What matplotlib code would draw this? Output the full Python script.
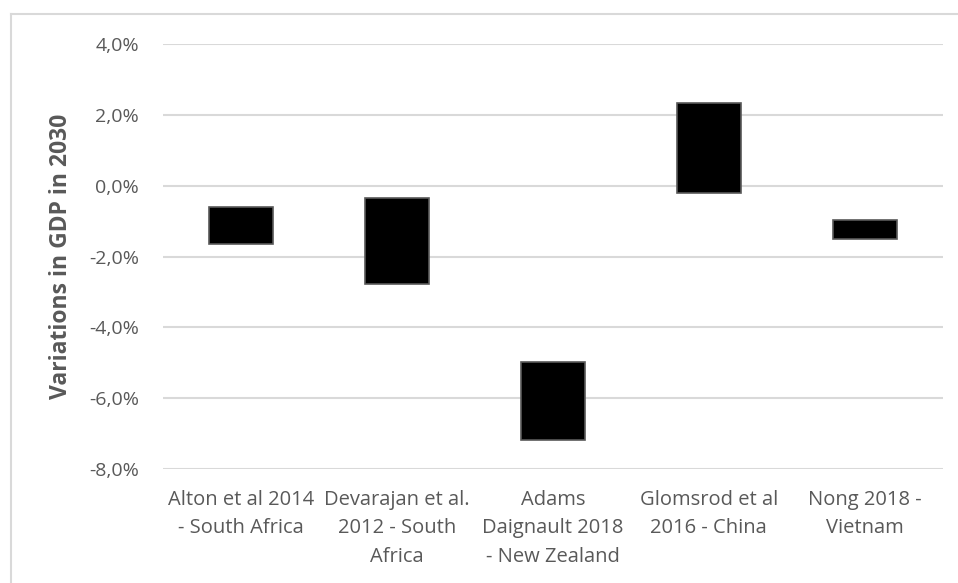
import matplotlib.pyplot as plt
from matplotlib.lines import Line2D
from matplotlib.ticker import FuncFormatter

# Study labels and GDP variation ranges (in %)
studies = ["Alton et al 2014\n- South Africa",
           "Devarajan et al.\n2012 - South\nAfrica",
           "Adams\nDaignault 2018\n- New Zealand",
           "Glomsrod et al\n2016 - China",
           "Nong 2018 -\nVietnam"]
low = [-1.65, -2.78, -7.17, -0.20, -1.52]
high = [-0.59, -0.34, -4.97, 2.33, -0.97]

plt.rcParams['font.family'] = ['Open Sans', 'DejaVu Sans']

fig = plt.figure(figsize=(9.58, 5.83), dpi=100)
ax = fig.add_axes([0.170, 0.195, 0.814, 0.730])

x = range(len(studies))
heights = [h - l for h, l in zip(high, low)]
ax.bar(x, heights, bottom=low, width=0.41, color='black',
       edgecolor='#595959', linewidth=1.2, zorder=3)

ax.set_ylim(-8, 4)
ax.set_yticks(range(-8, 5, 2))
ax.yaxis.set_major_formatter(FuncFormatter(lambda v, p: f"{v:.1f}%".replace('.', ',')))
ax.set_xlim(-0.5, len(studies) - 0.5)
ax.set_xticks(list(x))
ax.set_xticklabels(studies, fontsize=14.5, color='#595959', linespacing=1.55)
ax.tick_params(axis='y', labelsize=14, labelcolor='#595959', length=0, pad=17)
ax.tick_params(axis='x', length=0, pad=15)
ax.grid(axis='y', color='#d9d9d9', linewidth=1.5, zorder=0)
for s in ax.spines.values():
    s.set_visible(False)

ax.set_ylabel("Variations in GDP in 2030", fontsize=16.5, fontweight='bold',
              color='#595959', labelpad=12)

# chart frame (left and top edges visible)
fig.add_artist(Line2D([0.012, 0.012], [0, 0.976], color='#d9d9d9', lw=1.5))
fig.add_artist(Line2D([0.012, 1.0], [0.976, 0.976], color='#d9d9d9', lw=1.5))

fig.savefig("out.png", dpi=100)
